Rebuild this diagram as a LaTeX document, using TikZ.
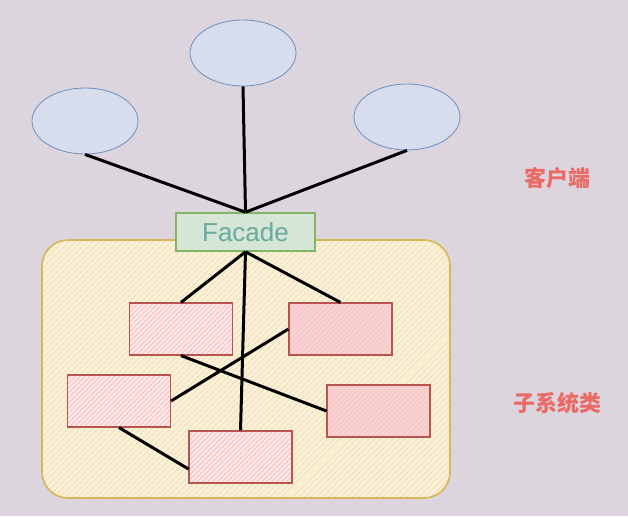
\documentclass[tikz,border=0pt]{standalone}
\usepackage{fontspec}
\usepackage{tikz}
\usetikzlibrary{shapes.geometric}
\usetikzlibrary{patterns.meta}
\newfontfamily\cjk{Noto Sans CJK SC}
\newfontfamily\facadefont{Liberation Sans}
\definecolor{bgcol}{RGB}{221,213,221}
\definecolor{clientfill}{RGB}{216,221,237}
\definecolor{clientline}{RGB}{108,142,191}
\definecolor{facadefill}{RGB}{214,230,214}
\definecolor{facadeline}{RGB}{130,179,102}
\definecolor{facadetext}{RGB}{103,171,159}
\definecolor{subfill}{RGB}{252,240,206}
\definecolor{subhatch}{RGB}{212,206,222}
\definecolor{subline}{RGB}{214,182,86}
\definecolor{partfill}{RGB}{253,234,234}
\definecolor{parthatch}{RGB}{246,198,198}
\definecolor{partline}{RGB}{184,84,80}
\definecolor{labelcol}{RGB}{234,107,102}

\begin{document}
\begin{tikzpicture}[x=1pt,y=-1pt,
	client/.style={ellipse,draw=clientline,line width=0.8pt,fill=clientfill,minimum width=106pt,minimum height=66pt,inner sep=0pt},
	facade/.style={rectangle,draw=facadeline,line width=1.6pt,fill=facadefill,minimum width=139pt,minimum height=38pt,inner sep=0pt,text=facadetext,font=\facadefont\fontsize{26}{28}\selectfont},
	subsys/.style={rectangle,rounded corners=26pt,draw=subline,line width=1.6pt,preaction={fill=subfill},pattern={Lines[angle=45,distance=4pt,line width=0.6pt]},pattern color=subhatch,minimum width=408pt,minimum height=258pt},
	part/.style={rectangle,draw=partline,line width=1.1pt,preaction={fill=partfill},pattern={Lines[angle=45,distance=3.5pt,line width=1.2pt]},pattern color=parthatch,minimum width=103pt,minimum height=52pt,inner sep=0pt},
	partdark/.style={part,preaction={fill=parthatch!60!partfill}},
	tag/.style={text=labelcol,font=\cjk\bfseries\fontsize{22}{26}\selectfont},
	link/.style={line width=3pt,black}]
	\fill[bgcol] (0,0) rectangle (628,516);
	% clients
	\node[client] (cl) at (85,121)  {};
	\node[client] (cm) at (243,53)  {};
	\node[client] (cr) at (407,117) {};
	% subsystem container and facade
	\node[subsys] (sub) at (246,369) {};
	\node[facade] (fac) at (245.5,232) {Facade};
	% subsystem classes
	\node[part]     (pa) at (181,329)   {};
	\node[partdark] (pb) at (340.5,329) {};
	\node[part]     (pc) at (119,401)   {};
	\node[partdark] (pd) at (378.5,411) {};
	\node[part]     (pe) at (240.5,457) {};
	% labels
	\node[tag] (lclient) at (557,178) {客户端};
	\node[tag] (lsub)    at (557,403) {子系统类};
	\path[link]	(cl.south) edge (fac.north)
			(cm.south) edge (fac.north)
			(cr.south) edge (fac.north)
			(fac.south) edge (pa.north)
			(fac.south) edge (pb.north)
			(fac.south) edge (pe.north)
			(pa.south) edge (pd.west)
			(pb.west) edge (pc.east)
			(pc.south) edge ([yshift=-12pt]pe.west);
\end{tikzpicture}
\end{document}
